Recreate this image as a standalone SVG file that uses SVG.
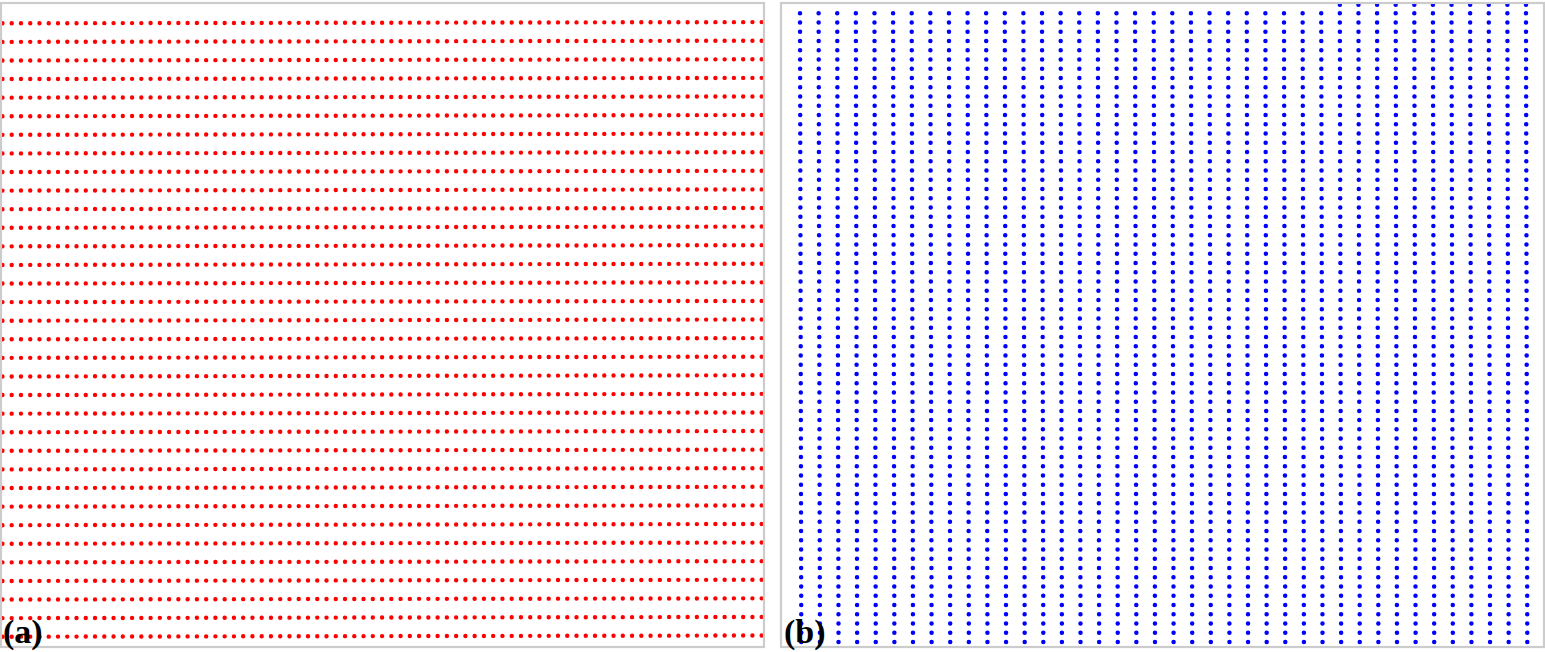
<svg xmlns="http://www.w3.org/2000/svg" xmlns:xlink="http://www.w3.org/1999/xlink" width="1545" height="652" viewBox="0 0 1545 652">
<style>
.red{stroke:#ff0000;stroke-width:4.4;stroke-linecap:round;stroke-dasharray:0 9.259;fill:none}
.blue{stroke:#0000ff;stroke-width:4.5;stroke-linecap:round;stroke-dasharray:0 9.246;fill:none}
.bluetop{stroke:#0000ff;stroke-width:4.5;stroke-linecap:round;stroke-dasharray:0 18.615;fill:none}
.frame{fill:none;stroke:#cccccc;stroke-width:2.2}
.lbl{font-family:"Liberation Serif","Times New Roman",serif;font-weight:bold;font-size:34px;fill:#000}
</style>
<defs>
<line id="rrow" class="red" x1="2.44" y1="0" x2="762" y2="-1.2"/>
<line id="bcol" class="blue" x1="0" y1="13.3" x2="1.3" y2="642.1"/>
</defs>
<rect x="0" y="0" width="1545" height="652" fill="#ffffff"/>
<g id="panel-a">
<g id="red-dots">
<use xlink:href="#rrow" y="23.30"/><use xlink:href="#rrow" y="41.89"/><use xlink:href="#rrow" y="60.48"/><use xlink:href="#rrow" y="79.06"/>
<use xlink:href="#rrow" y="97.65"/><use xlink:href="#rrow" y="116.24"/><use xlink:href="#rrow" y="134.83"/><use xlink:href="#rrow" y="153.42"/>
<use xlink:href="#rrow" y="172.00"/><use xlink:href="#rrow" y="190.59"/><use xlink:href="#rrow" y="209.18"/><use xlink:href="#rrow" y="227.77"/>
<use xlink:href="#rrow" y="246.36"/><use xlink:href="#rrow" y="264.94"/><use xlink:href="#rrow" y="283.53"/><use xlink:href="#rrow" y="302.12"/>
<use xlink:href="#rrow" y="320.71"/><use xlink:href="#rrow" y="339.30"/><use xlink:href="#rrow" y="357.88"/><use xlink:href="#rrow" y="376.47"/>
<use xlink:href="#rrow" y="395.06"/><use xlink:href="#rrow" y="413.65"/><use xlink:href="#rrow" y="432.24"/><use xlink:href="#rrow" y="450.82"/>
<use xlink:href="#rrow" y="469.41"/><use xlink:href="#rrow" y="488.00"/><use xlink:href="#rrow" y="506.59"/><use xlink:href="#rrow" y="525.18"/>
<use xlink:href="#rrow" y="543.76"/><use xlink:href="#rrow" y="562.35"/><use xlink:href="#rrow" y="580.94"/><use xlink:href="#rrow" y="599.53"/>
<use xlink:href="#rrow" y="618.12"/><use xlink:href="#rrow" y="636.70"/>
</g>
<rect class="frame" x="1" y="3" width="763" height="644"/>
<text class="lbl" x="3" y="642.5">(a)</text>
</g>
<g id="panel-b">
<g id="blue-dots">
<use xlink:href="#bcol" x="800.00"/><use xlink:href="#bcol" x="818.62"/><use xlink:href="#bcol" x="837.23"/><use xlink:href="#bcol" x="855.85"/>
<use xlink:href="#bcol" x="874.46"/><use xlink:href="#bcol" x="893.08"/><use xlink:href="#bcol" x="911.69"/><use xlink:href="#bcol" x="930.31"/>
<use xlink:href="#bcol" x="948.92"/><use xlink:href="#bcol" x="967.54"/><use xlink:href="#bcol" x="986.15"/><use xlink:href="#bcol" x="1004.77"/>
<use xlink:href="#bcol" x="1023.38"/><use xlink:href="#bcol" x="1042.00"/><use xlink:href="#bcol" x="1060.61"/><use xlink:href="#bcol" x="1079.23"/>
<use xlink:href="#bcol" x="1097.84"/><use xlink:href="#bcol" x="1116.46"/><use xlink:href="#bcol" x="1135.07"/><use xlink:href="#bcol" x="1153.69"/>
<use xlink:href="#bcol" x="1172.30"/><use xlink:href="#bcol" x="1190.92"/><use xlink:href="#bcol" x="1209.53"/><use xlink:href="#bcol" x="1228.15"/>
<use xlink:href="#bcol" x="1246.76"/><use xlink:href="#bcol" x="1265.38"/><use xlink:href="#bcol" x="1283.99"/><use xlink:href="#bcol" x="1302.61"/>
<use xlink:href="#bcol" x="1321.22"/><use xlink:href="#bcol" x="1339.84"/><use xlink:href="#bcol" x="1358.45"/><use xlink:href="#bcol" x="1377.07"/>
<use xlink:href="#bcol" x="1395.68"/><use xlink:href="#bcol" x="1414.30"/><use xlink:href="#bcol" x="1432.91"/><use xlink:href="#bcol" x="1451.53"/>
<use xlink:href="#bcol" x="1470.14"/><use xlink:href="#bcol" x="1488.76"/><use xlink:href="#bcol" x="1507.37"/><use xlink:href="#bcol" x="1525.99"/>
<line class="bluetop" x1="1339.84" y1="4.7" x2="1527" y2="4.7"/>
</g>
<rect class="frame" x="781" y="3" width="763" height="644"/>
<text class="lbl" x="784" y="642.5">(b)</text>
</g>
</svg>
